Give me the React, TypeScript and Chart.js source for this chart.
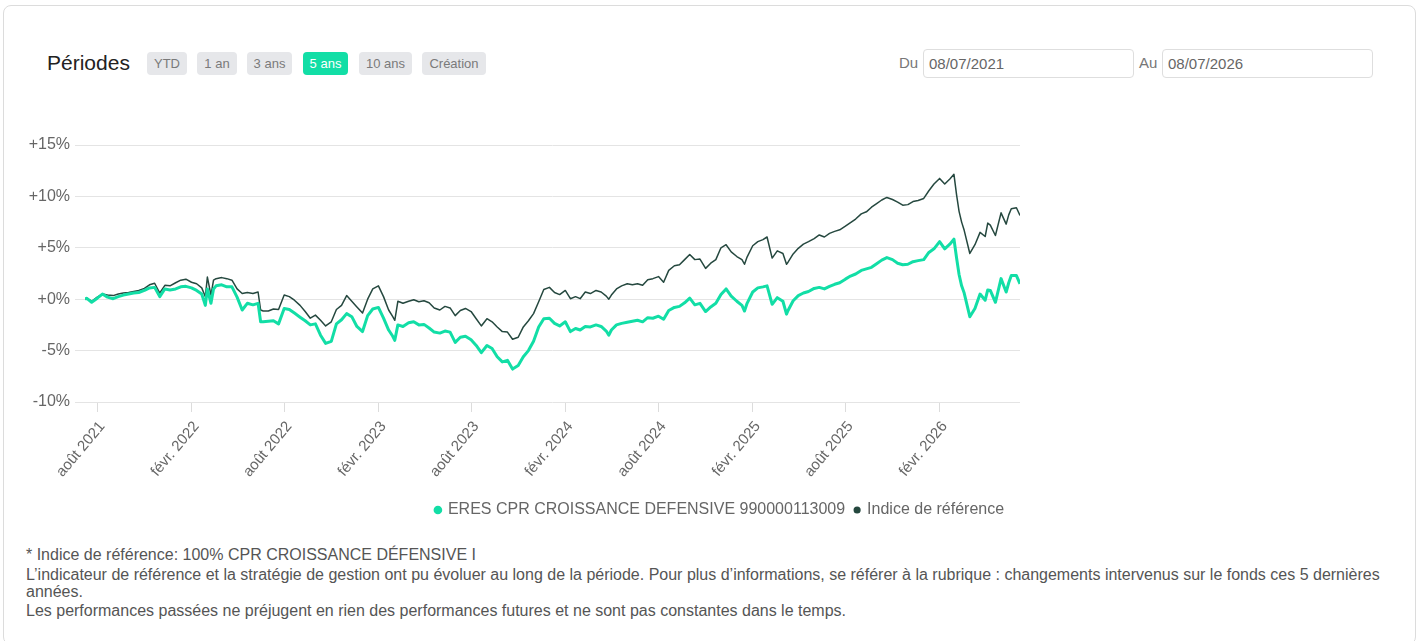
import React, { useEffect, useRef } from "react";
import { Chart, registerables } from "chart.js";

Chart.register(...registerables);

// ---------- DATA ----------
const dates = [
  "2021-07-08", "2021-07-11", "2021-07-21",
  "2021-08-01", "2021-08-11", "2021-08-21",
  "2021-09-01", "2021-09-11", "2021-09-21",
  "2021-10-01", "2021-10-11", "2021-10-21",
  "2021-11-01", "2021-11-11", "2021-11-21",
  "2021-12-01", "2021-12-11", "2021-12-21",
  "2022-01-01", "2022-01-11", "2022-01-21",
  "2022-02-01", "2022-02-11", "2022-02-21", "2022-02-28",
  "2022-03-04", "2022-03-11", "2022-03-16", "2022-03-21",
  "2022-04-01", "2022-04-11", "2022-04-21",
  "2022-05-01", "2022-05-11", "2022-05-21",
  "2022-06-01", "2022-06-11", "2022-06-16", "2022-06-21",
  "2022-07-01", "2022-07-11", "2022-07-21",
  "2022-08-01", "2022-08-11", "2022-08-21",
  "2022-09-01", "2022-09-11", "2022-09-21",
  "2022-10-01", "2022-10-11", "2022-10-21",
  "2022-11-01", "2022-11-11", "2022-11-21",
  "2022-12-01", "2022-12-11", "2022-12-21",
  "2023-01-01", "2023-01-11", "2023-01-21",
  "2023-02-01", "2023-02-11", "2023-02-21",
  "2023-03-01", "2023-03-05", "2023-03-11", "2023-03-21",
  "2023-04-01", "2023-04-11", "2023-04-21",
  "2023-05-01", "2023-05-11", "2023-05-21",
  "2023-06-01", "2023-06-11", "2023-06-21",
  "2023-07-01", "2023-07-11", "2023-07-21",
  "2023-08-01", "2023-08-11", "2023-08-21",
  "2023-09-01", "2023-09-11", "2023-09-21",
  "2023-10-01", "2023-10-11", "2023-10-21",
  "2023-11-01", "2023-11-11", "2023-11-21",
  "2023-12-01", "2023-12-11", "2023-12-21",
  "2024-01-01", "2024-01-11", "2024-01-21",
  "2024-02-01", "2024-02-11", "2024-02-21",
  "2024-03-01", "2024-03-11", "2024-03-21",
  "2024-04-01", "2024-04-11", "2024-04-21", "2024-04-26",
  "2024-05-01", "2024-05-11", "2024-05-21",
  "2024-06-01", "2024-06-11", "2024-06-21",
  "2024-07-01", "2024-07-11", "2024-07-21",
  "2024-08-01", "2024-08-11", "2024-08-21",
  "2024-09-01", "2024-09-11", "2024-09-21",
  "2024-10-01", "2024-10-11", "2024-10-21",
  "2024-11-01", "2024-11-11", "2024-11-21",
  "2024-12-01", "2024-12-11", "2024-12-21",
  "2025-01-01", "2025-01-11", "2025-01-16", "2025-01-21",
  "2025-02-01", "2025-02-11", "2025-02-21",
  "2025-03-01", "2025-03-11", "2025-03-21",
  "2025-04-01", "2025-04-08", "2025-04-11", "2025-04-21",
  "2025-05-01", "2025-05-11", "2025-05-21",
  "2025-06-01", "2025-06-11", "2025-06-21",
  "2025-07-01", "2025-07-11", "2025-07-21",
  "2025-08-01", "2025-08-11", "2025-08-21",
  "2025-09-01", "2025-09-11", "2025-09-21",
  "2025-10-01", "2025-10-11", "2025-10-21",
  "2025-11-01", "2025-11-11", "2025-11-21",
  "2025-12-01", "2025-12-11", "2025-12-21",
  "2026-01-01", "2026-01-11", "2026-01-21",
  "2026-02-01", "2026-02-11", "2026-02-21",
  "2026-03-01", "2026-03-06", "2026-03-11", "2026-03-16", "2026-03-21",
  "2026-04-01", "2026-04-11", "2026-04-21",
  "2026-05-01", "2026-05-06", "2026-05-11", "2026-05-21",
  "2026-06-01", "2026-06-11", "2026-06-16", "2026-06-21",
  "2026-07-01", "2026-07-08",
];

const fundValues = [
  0, 0.1, -0.3,
  0.1, 0.5, 0.2,
  0.05, 0.25, 0.4,
  0.5, 0.6, 0.65,
  0.85, 1.1, 1.15,
  0.25, 1.0, 0.9,
  1.0, 1.2, 1.25,
  1.1, 0.85, 0.5, -0.6,
  1.0, -0.4, 1.0, 1.3,
  1.4, 1.2, 1.2,
  0.2, -1.05, -0.4,
  -0.55, -0.4, -2.2, -2.2,
  -2.15, -2.1, -2.4,
  -0.9, -1.0, -1.35,
  -1.75, -2.1, -2.5,
  -2.4, -3.5, -4.3,
  -4.1, -2.4, -2.0,
  -1.4, -1.7, -2.65,
  -3.15, -1.6, -0.95,
  -0.8, -1.85, -3.0,
  -3.6, -4.0, -2.5, -2.65,
  -2.3, -2.2, -2.5,
  -2.45, -2.8, -3.2,
  -3.3, -3.1, -3.2,
  -4.2, -3.7, -3.6,
  -3.95, -4.5, -5.2,
  -4.5, -4.8, -5.6,
  -6.1, -5.95, -6.8,
  -6.45, -5.6, -5.0,
  -4.1, -2.7, -1.9,
  -1.85, -2.35, -2.6,
  -2.2, -3.15, -2.85,
  -3.0, -2.65, -2.7,
  -2.5, -2.65, -3.1, -3.5,
  -3.0, -2.5, -2.35,
  -2.25, -2.15, -2.05,
  -2.2, -1.8, -1.85,
  -1.65, -1.95, -1.1,
  -0.8, -0.7, -0.35,
  0.1, -0.55, -0.4,
  -1.2, -0.75, -0.4,
  0.45, 1.0, 0.3,
  -0.2, -0.6, -1.15, -0.4,
  0.7, 1.1, 1.2,
  1.3, -0.5, 0.15,
  -0.2, -1.45, -1.1, -0.15,
  0.35, 0.6, 0.75,
  1.05, 1.15, 1.0,
  1.25, 1.45, 1.6,
  1.95, 2.25, 2.45,
  2.8, 2.95, 3.1,
  3.45, 3.8, 4.05,
  3.85, 3.5, 3.35,
  3.4, 3.65, 3.75,
  3.85, 4.55, 4.9,
  5.6, 4.9, 5.35,
  5.85, 4.05, 2.4, 1.3, 0.6,
  -1.7, -0.9, 0.5,
  -0.1, 0.9, 0.85, -0.3,
  2.0, 0.7, 1.6, 2.3,
  2.3, 1.5,
];

const indexValues = [
  0, 0.1, -0.2,
  0.2, 0.5, 0.4,
  0.35, 0.5, 0.6,
  0.65, 0.75, 0.85,
  1.05, 1.4, 1.55,
  0.6, 1.35, 1.3,
  1.6, 1.85, 1.95,
  1.65, 1.5, 1.1, 0.23,
  2.15, 0.4, 1.85, 2.0,
  2.1, 2.0, 1.85,
  1.0, 0.55, 0.65,
  0.55, 0.7, -1.05, -1.15,
  -1.15, -0.95, -1.0,
  0.4, 0.25, -0.1,
  -0.6, -1.2, -1.85,
  -1.55, -2.05, -2.6,
  -2.2, -1.0, -0.6,
  0.35, -0.2, -0.75,
  -1.35, 0.0, 1.0,
  1.3, 0.25, -1.05,
  -1.7, -2.05, -0.2, -0.4,
  -0.2, -0.05, -0.25,
  -0.15, -0.35, -0.85,
  -1.05, -0.7, -0.85,
  -1.6, -1.1, -0.9,
  -1.2, -1.9, -2.6,
  -1.9, -2.2, -2.7,
  -3.15, -3.2, -3.9,
  -3.7, -2.7, -2.1,
  -1.4, -0.25, 0.95,
  1.15, 0.65, 0.45,
  0.85, 0.05, 0.25,
  0.05, 0.7, 0.55,
  0.85, 0.7, 0.3, 0.0,
  0.4, 1.0, 1.3,
  1.5, 1.4, 1.5,
  1.35, 1.9, 2.0,
  2.2, 1.65, 2.8,
  3.25, 3.35, 3.85,
  4.35, 3.85, 3.9,
  3.0, 3.5, 3.85,
  5.0, 5.3, 4.6,
  4.15, 3.85, 3.4, 4.1,
  5.2, 5.6, 5.8,
  6.05, 4.0, 4.7,
  4.45, 3.4, 3.6, 4.4,
  4.95, 5.35, 5.6,
  5.9, 6.25, 6.05,
  6.4, 6.6, 6.75,
  7.1, 7.45, 7.8,
  8.3, 8.5, 8.95,
  9.3, 9.65, 9.9,
  9.7, 9.45, 9.15,
  9.2, 9.5, 9.6,
  9.8, 10.55, 11.2,
  11.75, 11.2, 11.7,
  12.15, 10.2, 8.55, 7.5, 6.7,
  4.45, 5.3, 6.5,
  6.1, 7.4, 7.2, 6.2,
  8.4, 7.3, 8.2, 8.8,
  8.9, 8.15,
];

const tickDates = [
  "2021-08-01", "2022-02-01", "2022-08-01", "2023-02-01", "2023-08-01",
  "2024-02-01", "2024-08-01", "2025-02-01", "2025-08-01", "2026-02-01",
];
const tickLabels = [
  "août 2021", "févr. 2022", "août 2022", "févr. 2023", "août 2023",
  "févr. 2024", "août 2024", "févr. 2025", "août 2025", "févr. 2026",
];
const yMin = -10;
const yMax = 15;
const yStep = 5;
const rangeStart = "2021-07-08";
const rangeEnd = "2026-07-08";

const fundLabel = "ERES CPR CROISSANCE DEFENSIVE 990000113009";
const indexLabel = "Indice de référence";
const periods = ["YTD", "1 an", "3 ans", "5 ans", "10 ans", "Création"];
const activePeriod = "5 ans";
const fromDate = "08/07/2021";
const toDate = "08/07/2026";

const footnote1 = "* Indice de référence: 100% CPR CROISSANCE DÉFENSIVE I";
const footnote2 =
  "L’indicateur de référence et la stratégie de gestion ont pu évoluer au long de la période. Pour plus d’informations, se référer à la rubrique : changements intervenus sur le fonds ces 5 dernières années.";
const footnote3 =
  "Les performances passées ne préjugent en rien des performances futures et ne sont pas constantes dans le temps.";

// ---------- STYLE ----------
const FONT = "'Liberation Sans', Arial, Helvetica, sans-serif";
const FUND_COLOR = "#12dea6";
const INDEX_COLOR = "#25483f";
const buttonLefts = [147, 197, 247, 303, 359, 422];
const buttonWidths = [40, 40, 45, 45, 53, 64];

const ms = (d: string) => Date.parse(d + "T00:00:00Z");

function PerfChart() {
  const ref = useRef<HTMLCanvasElement | null>(null);
  useEffect(() => {
    if (!ref.current) return;
    Chart.defaults.font.family = FONT;
    const chart = new Chart(ref.current, {
      type: "line",
      data: {
        datasets: [
          {
            label: fundLabel,
            data: dates.map((d, i) => ({ x: ms(d), y: fundValues[i] })),
            borderColor: FUND_COLOR,
            backgroundColor: FUND_COLOR,
            borderWidth: 3,
            pointRadius: 0,
            tension: 0,
            borderJoinStyle: "round",
          },
          {
            label: indexLabel,
            data: dates.map((d, i) => ({ x: ms(d), y: indexValues[i] })),
            borderColor: INDEX_COLOR,
            backgroundColor: INDEX_COLOR,
            borderWidth: 1.5,
            pointRadius: 0,
            tension: 0,
            borderJoinStyle: "round",
          },
        ],
      },
      options: {
        responsive: false,
        animation: false,
        layout: { padding: { top: 35, right: 0, bottom: 12, left: 0 } },
        plugins: {
          legend: {
            position: "bottom",
            labels: {
              usePointStyle: true,
              pointStyle: "circle",
              boxWidth: 4,
              boxHeight: 4,
              color: "#666",
              padding: 10,
              font: { size: 16, family: FONT },
            },
          },
          tooltip: { enabled: false },
        },
        scales: {
          x: {
            type: "linear",
            min: ms(rangeStart),
            max: ms(rangeEnd),
            afterBuildTicks: (s: any) => {
              s.ticks = tickDates.map((d) => ({ value: ms(d) }));
            },
            afterFit: (s: any) => {
              s.height = 90;
            },
            ticks: {
              autoSkip: false,
              minRotation: 50,
              maxRotation: 50,
              color: "#666",
              padding: 6,
              labelOffset: 5,
              font: { size: 15, family: FONT },
              callback: (_v: any, i: number) => tickLabels[i],
            },
            grid: { drawOnChartArea: false, drawTicks: true, tickLength: 10, color: "#dcdcdc" },
            border: { display: false },
          },
          y: {
            type: "linear",
            min: yMin,
            max: yMax,
            afterFit: (s: any) => {
              s.width = 60;
            },
            ticks: {
              stepSize: yStep,
              color: "#666",
              padding: 5,
              font: { size: 16, family: FONT },
              callback: (v: any) => (Number(v) >= 0 ? "+" : "") + v + "%",
            },
            grid: { color: "#e4e4e4", tickLength: 10 },
            border: { display: false },
          },
          pad: {
            type: "linear",
            axis: "y",
            position: "right",
            display: true,
            afterFit: (s: any) => {
              s.width = 395;
            },
            grid: { display: false },
            ticks: { display: false },
            border: { display: false },
          },
        },
      } as any,
    });
    return () => chart.destroy();
  }, []);
  return <canvas ref={ref} width={1390} height={430} style={{ display: "block" }} />;
}

const dateBox: React.CSSProperties = {
  position: "absolute",
  top: 49,
  width: 211,
  height: 29,
  boxSizing: "border-box",
  border: "1px solid #dedede",
  borderRadius: 4,
  padding: "0 5px",
  fontSize: 15,
  lineHeight: "27px",
  color: "#666",
};

export default function App() {
  const abs = (l: number, t: number): React.CSSProperties => ({ position: "absolute", left: l, top: t });
  return (
    <div style={{ position: "absolute", left: 0, top: 0, width: 1423, height: 641, fontFamily: FONT, overflow: "hidden", background: "#fff" }}>
      <div
        style={{
          ...abs(3, 5),
          width: 1413,
          height: 640,
          border: "1px solid #dcdcdc",
          borderRadius: 8,
          boxSizing: "border-box",
        }}
      />
      <div style={{ ...abs(47, 50), fontSize: 21, lineHeight: "25px", color: "#222" }}>Périodes</div>
      {periods.map((p, i) => {
        const active = p === activePeriod;
        return (
          <div
            key={p}
            style={{
              ...abs(buttonLefts[i], 52),
              width: buttonWidths[i],
              height: 23,
              lineHeight: "23px",
              textAlign: "center",
              fontSize: 13,
              borderRadius: 4,
              background: active ? FUND_COLOR : "#e6e7ea",
              color: active ? "#fff" : "#7a7a7a",
            }}
          >
            {p}
          </div>
        );
      })}
      <div style={{ ...abs(899, 54), fontSize: 15, lineHeight: "18px", color: "#777" }}>Du</div>
      <div style={{ ...dateBox, left: 923 }}>{fromDate}</div>
      <div style={{ ...abs(1139, 54), fontSize: 15, lineHeight: "18px", color: "#777" }}>Au</div>
      <div style={{ ...dateBox, left: 1162 }}>{toDate}</div>
      <div style={{ ...abs(25, 110) }}>
        <PerfChart />
      </div>
      <div style={{ ...abs(26, 546), fontSize: 16, lineHeight: "18px", color: "#555", whiteSpace: "nowrap" }}>{footnote1}</div>
      <div style={{ ...abs(26, 566), width: 1385, fontSize: 16, lineHeight: "17px", color: "#555" }}>{footnote2}</div>
      <div style={{ ...abs(26, 602), fontSize: 16, lineHeight: "18px", color: "#555", whiteSpace: "nowrap" }}>{footnote3}</div>
    </div>
  );
}
